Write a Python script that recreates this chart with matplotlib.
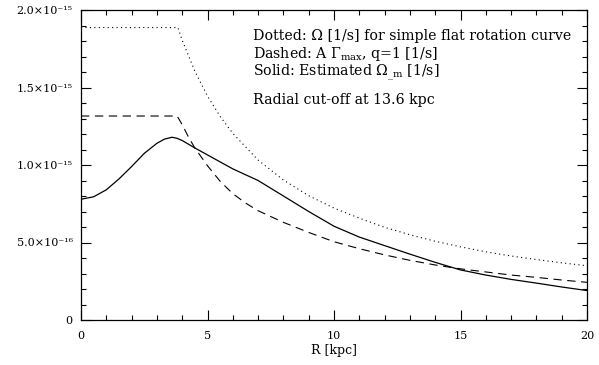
"""Rotation-curve frequencies vs radius (IDL-style line plot)."""
import matplotlib
matplotlib.use("Agg")
import matplotlib.pyplot as plt
from matplotlib.ticker import MultipleLocator, FixedLocator, FixedFormatter

plt.rcParams["font.family"] = ["DejaVu Serif"]
plt.rcParams["mathtext.fontset"] = "dejavuserif"
plt.rcParams["mathtext.default"] = "regular"

# values in units of 1e-15 1/s
r_dotted = [0, 3.83, 4.0, 4.5, 5.0, 5.5, 6.0, 7.0, 8.0, 9.0, 10.0, 11.0, 12.0,
            13.0, 14.0, 15.0, 16.0, 17.0, 18.0, 19.0, 20.0]
omega_flat = [1.887, 1.887, 1.805, 1.605, 1.445, 1.313, 1.204, 1.032, 0.903, 0.802,
              0.722, 0.657, 0.598, 0.550, 0.508, 0.472, 0.440, 0.413, 0.390, 0.369,
              0.350]

r_dashed = [0, 3.8, 4.0, 4.25, 4.5, 5.0, 5.5, 6.0, 6.5, 7.0, 8.0, 9.0, 10.0, 11.0,
            12.0, 13.0, 14.0, 15.0, 16.0, 17.0, 18.0, 19.0, 20.0]
gamma_max = [1.316, 1.316, 1.26, 1.18, 1.11, 0.995, 0.895, 0.815, 0.755, 0.705,
             0.630, 0.565, 0.505, 0.460, 0.420, 0.385, 0.355, 0.330, 0.310, 0.290,
             0.275, 0.258, 0.243]

r_solid = [0, 0.5, 1.0, 1.5, 2.0, 2.5, 3.0, 3.3, 3.6, 3.8, 4.0, 4.5, 5.0, 6.0, 7.0,
           8.0, 9.0, 10.0, 11.0, 12.0, 13.0, 14.0, 15.0, 16.0, 17.0, 18.0, 19.0, 20.0]
omega_m = [0.779, 0.795, 0.84, 0.91, 0.99, 1.075, 1.14, 1.167, 1.179, 1.172, 1.158,
           1.11, 1.065, 0.975, 0.90, 0.80, 0.70, 0.605, 0.535, 0.48, 0.425, 0.372,
           0.323, 0.29, 0.262, 0.238, 0.213, 0.19]

ytick_vals = [0, 0.5, 1.0, 1.5, 2.0]
ytick_labels = ["0", "5.0×10⁻¹⁶", "1.0×10⁻¹⁵", "1.5×10⁻¹⁵", "2.0×10⁻¹⁵"]

notes = [
    "Dotted: Ω [1/s] for simple flat rotation curve",
    r"Dashed: A $\Gamma_{max}$, q=1 [1/s]",
    r"Solid: Estimated $\Omega_{\_m}$ [1/s]",
    "Radial cut-off at 13.6 kpc",
]
note_y = [36, 54, 72, 100]   # pixel rows from the top

fig = plt.figure(figsize=(5.99, 3.65), dpi=100)
ax = fig.add_axes([81 / 599, 45 / 365, 506 / 599, 310 / 365])

ax.plot(r_dotted, omega_flat, color="black", lw=0.8, ls=(0, (1, 3)))
ax.plot(r_dashed, gamma_max, color="black", lw=0.8, ls=(0, (7.5, 5)))
ax.plot(r_solid, omega_m, color="black", lw=0.9)

ax.set_xlim(0, 20)
ax.set_ylim(0, 2.0)
ax.xaxis.set_major_locator(MultipleLocator(5))
ax.xaxis.set_minor_locator(MultipleLocator(1))
ax.yaxis.set_major_locator(FixedLocator(ytick_vals))
ax.yaxis.set_major_formatter(FixedFormatter(ytick_labels))
ax.yaxis.set_minor_locator(MultipleLocator(0.1))
ax.tick_params(which="both", direction="in", top=True, right=True, width=0.8,
               labelsize=8, colors="black")
ax.tick_params(which="major", length=7)
ax.tick_params(which="minor", length=3.5)
ax.tick_params(axis="x", pad=8)
ax.tick_params(axis="y", pad=6)
for s in ax.spines.values():
    s.set_linewidth(0.9)

ax.set_xlabel("R [kpc]", fontsize=9, labelpad=2)

for line, yp in zip(notes, note_y):
    ax.text(253 / 599, (365 - yp) / 365, line, transform=fig.transFigure,
            fontsize=10.2, va="center", ha="left")

fig.savefig("out.png", dpi=100)
